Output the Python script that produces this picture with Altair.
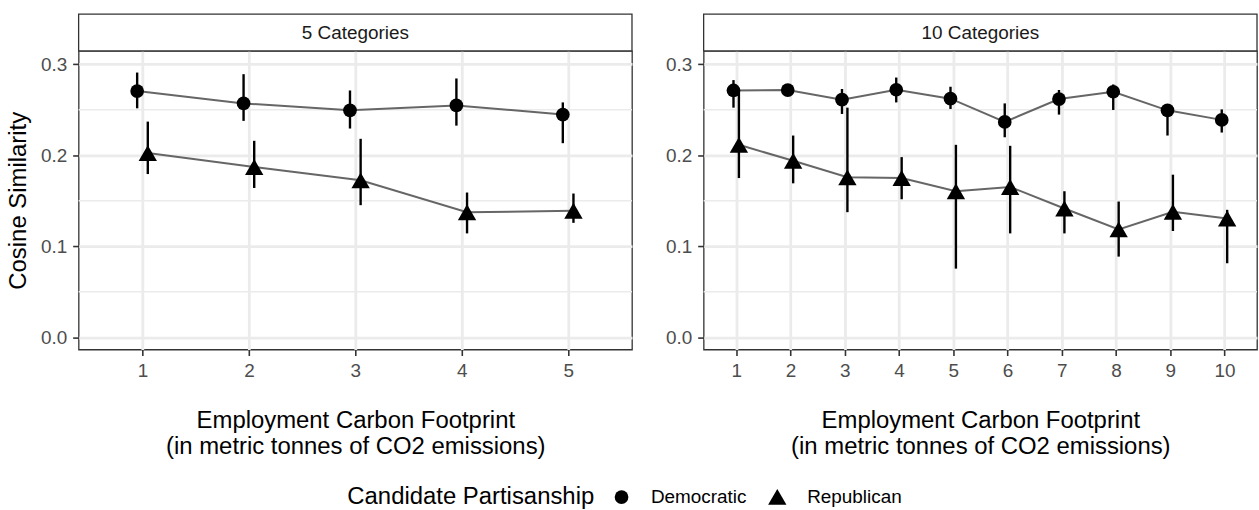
import altair as alt
import pandas as pd

FONT = "Liberation Sans"

parties = ["Democratic", "Republican"]

cats5 = [1, 2, 3, 4, 5]
dem5 = [0.2705, 0.2569, 0.2493, 0.2547, 0.2446]
dem5_lo = [0.2515, 0.2377, 0.2293, 0.2325, 0.2132]
dem5_hi = [0.2908, 0.2890, 0.2711, 0.2843, 0.2580]
rep5 = [0.2023, 0.1870, 0.1724, 0.1374, 0.1389]
rep5_lo = [0.1793, 0.1640, 0.1451, 0.1141, 0.1257]
rep5_hi = [0.2369, 0.2158, 0.2180, 0.1590, 0.1579]

cats10 = [1, 2, 3, 4, 5, 6, 7, 8, 9, 10]
dem10 = [0.2711, 0.2715, 0.2610, 0.2719, 0.2621, 0.2366, 0.2617, 0.2697, 0.2493, 0.2388]
dem10_lo = [0.2522, 0.2685, 0.2453, 0.2580, 0.2508, 0.2197, 0.2446, 0.2497, 0.2216, 0.2249]
dem10_hi = [0.2825, 0.2745, 0.2727, 0.2853, 0.2752, 0.2569, 0.2716, 0.2777, 0.2560, 0.2503]
rep10 = [0.2114, 0.1939, 0.1757, 0.1749, 0.1604, 0.1651, 0.1415, 0.1185, 0.1378, 0.1305]
rep10_lo = [0.1749, 0.1691, 0.1374, 0.1516, 0.0754, 0.1141, 0.1141, 0.0886, 0.1167, 0.0813]
rep10_hi = [0.2700, 0.2216, 0.2522, 0.1979, 0.2114, 0.2103, 0.1604, 0.1491, 0.1786, 0.1400]

y_ticks = [0.0, 0.1, 0.2, 0.3]
y_minor = [0.05, 0.15, 0.25]
x_title = ["Employment Carbon Footprint", "(in metric tonnes of CO2 emissions)"]
y_title = "Cosine Similarity"
legend_title = "Candidate Partisanship"


def make_df(cats, d, dlo, dhi, r, rlo, rhi):
    rows = []
    for i, c in enumerate(cats):
        rows.append({"cat": c, "party": parties[0], "est": d[i], "lo": dlo[i], "hi": dhi[i]})
        rows.append({"cat": c, "party": parties[1], "est": r[i], "lo": rlo[i], "hi": rhi[i]})
    return pd.DataFrame(rows)


W, H, STRIP = 556, 300, 37


def panel(df, cats, strip_label, show_ytitle):
    n = len(cats)
    xs = alt.Scale(domain=[0.4, n + 0.6], nice=False, zero=False)
    ys = alt.Scale(domain=[-0.0135, 0.3145], nice=False, zero=False)
    x = alt.X("xpos:Q", scale=xs,
              axis=alt.Axis(values=cats, format="d", title=x_title))
    if show_ytitle:
        yax = alt.Axis(values=y_ticks, format=".1f", title=y_title)
    else:
        yax = alt.Axis(values=y_ticks, format=".1f", title=None)

    base = alt.Chart(df).transform_calculate(
        xpos="datum.party == 'Democratic' ? datum.cat - 0.05 : datum.cat + 0.05"
    )

    minor = alt.Chart(alt.Data(values=[{"v": v} for v in y_minor])).mark_rule(
        color="#ebebeb", strokeWidth=1.4
    ).encode(y=alt.Y("v:Q", scale=ys, axis=yax))

    lines = base.mark_line(color="#666666", strokeWidth=2).encode(
        x=x, y=alt.Y("est:Q", scale=ys, axis=yax), detail="party:N"
    )
    errs = base.mark_rule(color="black", strokeWidth=2.4).encode(
        x=x, y=alt.Y("lo:Q", scale=ys, axis=yax), y2="hi:Q"
    )
    leg = alt.Legend(
        title=legend_title,
        orient="none",
        legendX=270,
        legendY=438,
        direction="horizontal",
        titleOrient="left",
    )
    points = base.mark_point(filled=True, opacity=1, color="black").encode(
        x=x,
        y=alt.Y("est:Q", scale=ys, axis=yax),
        shape=alt.Shape(
            "party:N",
            scale=alt.Scale(domain=parties, range=["circle", "triangle-up"]),
            legend=leg,
        ),
        size=alt.Size(
            "party:N",
            scale=alt.Scale(domain=parties, range=[190, 340]),
            legend=leg,
        ),
    )

    strip_rect = alt.Chart(alt.Data(values=[{"s": 1}])).mark_rect(
        fill="white", stroke="#333333", strokeWidth=1.3
    ).encode(x=alt.value(0), x2=alt.value(W), y=alt.value(-STRIP), y2=alt.value(0))
    strip_text = alt.Chart(alt.Data(values=[{"s": 1}])).mark_text(
        text=strip_label, fontSize=19, color="#1a1a1a", font=FONT,
        align="center", baseline="middle"
    ).encode(x=alt.value(W / 2), y=alt.value(-STRIP / 2))

    return alt.layer(minor, lines, errs, points, strip_rect, strip_text).properties(
        width=W, height=H
    )


left = panel(make_df(cats5, dem5, dem5_lo, dem5_hi, rep5, rep5_lo, rep5_hi),
             cats5, "5 Categories", True)
right = panel(make_df(cats10, dem10, dem10_lo, dem10_hi, rep10, rep10_lo, rep10_hi),
              cats10, "10 Categories", False)

chart = alt.hconcat(left, right, spacing=30).properties(
    padding={"left": 5, "top": 11, "right": 0, "bottom": 0}
).configure(font=FONT).configure_view(
    stroke="#333333", strokeWidth=1.3
).configure_axis(
    labelFont=FONT, labelFontSize=19, labelColor="#4d4d4d", labelPadding=6,
    titleFont=FONT, titleFontSize=24, titleColor="black", titleFontWeight="normal",
    tickColor="#333333", tickWidth=1.6, tickSize=6,
    gridColor="#ebebeb", gridWidth=2.8, domain=False,
).configure_axisX(
    titlePadding=28, titleLineHeight=26,
).configure_axisY(
    titlePadding=10,
).configure_legend(
    titleFont=FONT, titleFontSize=24, titleColor="black", titleFontWeight="normal",
    titleLimit=500,
    labelFont=FONT, labelFontSize=19, labelColor="black",
    symbolFillColor="black", symbolStrokeColor="black",
    labelOffset=20, columnPadding=17, titlePadding=17,
)

chart.save("out.html", embed_options={"renderer": "svg", "actions": False})
